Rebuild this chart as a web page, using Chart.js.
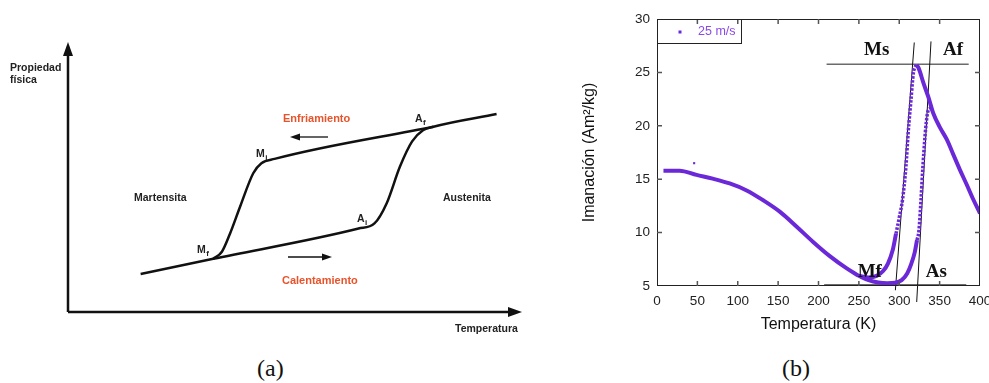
<!DOCTYPE html>
<html>
<head>
<meta charset="utf-8">
<script src="https://cdn.jsdelivr.net/npm/chart.js@4.4.0/dist/chart.umd.min.js"></script>
<style>
  html, body { margin: 0; padding: 0; background: #fff; overflow: hidden; }
  body { width: 989px; height: 383px; position: relative; }
  canvas { position: absolute; top: 0; }
  #schemeChart { left: 0; }
  #magChart { left: 560px; }
  .caption { position: absolute; top: 356px; font: 24px "Liberation Serif", "DejaVu Serif", serif; line-height: 24px; color: #111; }
</style>
</head>
<body>
<canvas id="schemeChart" width="540" height="340"></canvas>
<canvas id="magChart" width="440" height="340"></canvas>
<div class="caption" style="left:257px">(a)</div>
<div class="caption" style="left:782px">(b)</div>
<script>
// (a) schematic loop, arbitrary units 0-100
const heatTemp = [16, 32, 64, 67.5, 70.2, 73.1, 75.8, 78.2, 80.5, 94.4];
const heatProp = [14.1, 19.7, 30.9, 32.8, 40.3, 53.8, 63.2, 67.3, 68.6, 73.3];
const coolTemp = [32, 33.9, 35.7, 37.9, 40.8, 42.6, 45.5, 80.5];
const coolProp = [19.7, 22.3, 29.1, 39, 51.4, 55.1, 56.7, 68.6];

// (b) magnetisation vs temperature, 25 m/s
const baseTemp = [8, 28, 49, 69, 90, 111, 131, 152, 173, 193, 214, 235, 250];
const baseMag = [15.8, 15.8, 15.4, 15.05, 14.6, 13.95, 13.05, 11.96, 10.55, 9.15, 7.8, 6.65, 5.95];
const coolLowTemp = [250, 262, 272, 280, 286, 292, 296];
const coolLowMag = [5.95, 5.8, 5.95, 6.4, 7.1, 8.4, 9.9];
const coolSteepTemp = [296, 300, 304, 308.3, 311, 314.5, 317.4, 319.5, 321.5];
const coolSteepMag = [9.9, 11.4, 13.05, 16.2, 19.3, 22.4, 24.9, 25.5, 25.7];
const heatLowTemp = [250, 262, 274, 285, 295, 303, 310, 315, 319, 322];
const heatLowMag = [5.95, 5.55, 5.32, 5.25, 5.3, 5.55, 6.2, 7.1, 8.1, 9.3];
const heatSteepTemp = [322, 324.4, 326.9, 329.3, 332.2, 335, 338, 341];
const heatSteepMag = [9.3, 10.2, 13.05, 16.2, 19.3, 21.2, 21.6, 21.5];
const warmTemp = [321.5, 324, 330, 336, 342, 350, 359, 367, 375, 383.5, 392, 400];
const warmMag = [25.7, 25.4, 24.0, 22.7, 21.2, 19.9, 18.7, 17.3, 15.9, 14.5, 13.05, 11.8];
const strayTemp = [46];
const strayMag = [16.5];

// guide lines
const upperLevelTemp = [210, 386];
const upperLevelMag = [25.76, 25.76];
const lowerLevelTemp = [207, 383];
const lowerLevelMag = [5.12, 5.12];
const msTangentTemp = [318.6, 295.2];
const msTangentMag = [27.8, 4.6];
const afTangentTemp = [339.3, 321.6];
const afTangentMag = [27.9, 3.5];

const xTicks = [0, 50, 100, 150, 200, 250, 300, 350, 400];
const yTicks = [5, 10, 15, 20, 25, 30];

const purple = '#6a28d8';
const zip = (xs, ys) => xs.map((x, i) => ({ x: x, y: ys[i] }));

// ---------- (a) ----------
const schemeDecor = {
    id: 'schemeDecor',
    afterDraw(chart) {
        const ctx = chart.ctx;
        const a = chart.chartArea;
        ctx.save();
        ctx.strokeStyle = '#111';
        ctx.fillStyle = '#111';
        ctx.lineWidth = 2.5;
        // axes with arrow heads
        ctx.beginPath();
        ctx.moveTo(a.left, a.bottom);
        ctx.lineTo(a.left, a.top + 10);
        ctx.moveTo(a.left, a.bottom);
        ctx.lineTo(a.right - 10, a.bottom);
        ctx.stroke();
        ctx.beginPath();
        ctx.moveTo(a.left, a.top);
        ctx.lineTo(a.left - 5, a.top + 14);
        ctx.lineTo(a.left + 5, a.top + 14);
        ctx.closePath();
        ctx.fill();
        ctx.beginPath();
        ctx.moveTo(a.right, a.bottom);
        ctx.lineTo(a.right - 14, a.bottom - 5);
        ctx.lineTo(a.right - 14, a.bottom + 5);
        ctx.closePath();
        ctx.fill();

        // small direction arrows
        function arrow(x1, x2, y) {
            const dir = x2 > x1 ? 1 : -1;
            ctx.lineWidth = 1.3;
            ctx.beginPath();
            ctx.moveTo(x1, y);
            ctx.lineTo(x2 - dir * 8, y);
            ctx.stroke();
            ctx.beginPath();
            ctx.moveTo(x2, y);
            ctx.lineTo(x2 - dir * 10, y - 3.5);
            ctx.lineTo(x2 - dir * 10, y + 3.5);
            ctx.closePath();
            ctx.fill();
        }
        arrow(328, 290, 137);
        arrow(288, 332, 257);

        ctx.font = 'bold 10.5px "Liberation Sans", Arial, sans-serif';
        ctx.textBaseline = 'alphabetic';
        ctx.fillStyle = '#222';
        ctx.fillText('Propiedad', 10, 71);
        ctx.fillText('física', 10, 83);
        ctx.fillText('Temperatura', 455, 332);
        ctx.fillText('Martensita', 134, 201);
        ctx.fillText('Austenita', 443, 201);
        ctx.fillStyle = '#e8532b';
        ctx.font = 'bold 11px "Liberation Sans", Arial, sans-serif';
        ctx.fillText('Enfriamiento', 283, 122);
        ctx.fillText('Calentamiento', 282, 284);

        ctx.fillStyle = '#222';
        function sub(main, s, x, y) {
            ctx.font = 'bold 10.5px "Liberation Sans", Arial, sans-serif';
            ctx.fillText(main, x, y);
            const w = ctx.measureText(main).width;
            ctx.font = 'bold 8px "Liberation Sans", Arial, sans-serif';
            ctx.fillText(s, x + w + 0.5, y + 2.5);
        }
        sub('M', 'i', 256, 157);
        sub('A', 'f', 415, 122);
        sub('A', 'i', 357, 222);
        sub('M', 'f', 197, 253);
        ctx.restore();
    }
};

new Chart(document.getElementById('schemeChart'), {
    type: 'scatter',
    data: {
        datasets: [{
            data: zip(heatTemp, heatProp),
            showLine: true,
            borderColor: '#111',
            borderWidth: 2.5,
            pointRadius: 0,
            cubicInterpolationMode: 'monotone'
        }, {
            data: zip(coolTemp, coolProp),
            showLine: true,
            borderColor: '#111',
            borderWidth: 2.5,
            pointRadius: 0,
            cubicInterpolationMode: 'monotone'
        }]
    },
    options: {
        responsive: false,
        animation: false,
        layout: { padding: { left: 68, right: 18, top: 42, bottom: 28 } },
        plugins: { legend: { display: false }, tooltip: { enabled: false } },
        scales: {
            x: { display: false, min: 0, max: 100 },
            y: { display: false, min: 0, max: 100 }
        }
    },
    plugins: [schemeDecor]
});

// ---------- (b) ----------
const frameDecor = {
    id: 'frameDecor',
    afterDatasetsDraw(chart) {
        const ctx = chart.ctx;
        const a = chart.chartArea;
        const x = chart.scales.x;
        const y = chart.scales.y;
        ctx.save();
        ctx.strokeStyle = '#222';
        ctx.lineWidth = 1;
        ctx.strokeRect(a.left + 0.5, a.top + 0.5, a.width - 1, a.height - 1);
        ctx.strokeStyle = '#555';
        ctx.lineWidth = 1.5;
        ctx.beginPath();
        xTicks.slice(1, -1).forEach(v => {
            const px = x.getPixelForValue(v);
            ctx.moveTo(px, a.bottom); ctx.lineTo(px, a.bottom - 5);
            ctx.moveTo(px, a.top); ctx.lineTo(px, a.top + 5);
        });
        yTicks.slice(1, -1).forEach(v => {
            const py = y.getPixelForValue(v);
            ctx.moveTo(a.left, py); ctx.lineTo(a.left + 5, py);
            ctx.moveTo(a.right, py); ctx.lineTo(a.right - 5, py);
        });
        ctx.stroke();

        // legend box
        ctx.strokeStyle = '#222';
        ctx.lineWidth = 1;
        ctx.strokeRect(a.left + 0.5, a.top + 0.5, 84, 24);
        ctx.fillStyle = purple;
        ctx.fillRect(a.left + 21.5, a.top + 11.5, 3, 3);
        ctx.fillStyle = '#8a4ae6';
        ctx.font = '12.5px "Liberation Sans", Arial, sans-serif';
        ctx.textBaseline = 'middle';
        ctx.fillText('25 m/s', a.left + 41, a.top + 13);

        // transformation labels
        ctx.fillStyle = '#111';
        ctx.font = 'bold 19px "Liberation Serif", "DejaVu Serif", serif';
        ctx.textAlign = 'center';
        ctx.textBaseline = 'alphabetic';
        ctx.fillText('Ms', x.getPixelForValue(272), y.getPixelForValue(26.6));
        ctx.fillText('Af', x.getPixelForValue(366.5), y.getPixelForValue(26.6));
        ctx.fillText('Mf', x.getPixelForValue(263.5), y.getPixelForValue(5.84));
        ctx.fillText('As', x.getPixelForValue(346), y.getPixelForValue(5.84));
        ctx.restore();
    }
};

function dataLine(xs, ys, dotted) {
    return {
        data: zip(xs, ys),
        showLine: true,
        borderColor: purple,
        borderWidth: dotted ? 3.5 : 4,
        borderDash: dotted ? [2.5, 1.5] : [],
        pointRadius: 0,
        cubicInterpolationMode: 'monotone'
    };
}
function guideLine(xs, ys, color, width) {
    return {
        data: zip(xs, ys),
        showLine: true,
        borderColor: color,
        borderWidth: width,
        pointRadius: 0,
        clip: false
    };
}

const sansFont = '"Liberation Sans", Arial, sans-serif';

new Chart(document.getElementById('magChart'), {
    type: 'scatter',
    data: {
        datasets: [
            dataLine(baseTemp, baseMag, false),
            dataLine(coolLowTemp, coolLowMag, false),
            dataLine(coolSteepTemp, coolSteepMag, true),
            dataLine(heatLowTemp, heatLowMag, false),
            dataLine(heatSteepTemp, heatSteepMag, true),
            dataLine(warmTemp, warmMag, false),
            {
                data: zip(strayTemp, strayMag),
                pointStyle: 'rect',
                pointRadius: 1.5,
                backgroundColor: purple,
                borderWidth: 0
            },
            guideLine(msTangentTemp, msTangentMag, '#111', 1),
            guideLine(afTangentTemp, afTangentMag, '#111', 1),
            guideLine(upperLevelTemp, upperLevelMag, '#6b6b6b', 1.5),
            guideLine(lowerLevelTemp, lowerLevelMag, '#6b6b6b', 1.5)
        ]
    },
    options: {
        responsive: false,
        animation: false,
        layout: { padding: { left: 0, right: 20, top: 19, bottom: 0 } },
        plugins: { legend: { display: false }, tooltip: { enabled: false } },
        scales: {
            x: {
                min: 0, max: 400,
                afterBuildTicks: s => { s.ticks = xTicks.map(v => ({ value: v })); },
                afterFit: s => { s.height = 54; },
                grid: { display: false, drawTicks: false },
                border: { display: false },
                ticks: { color: '#222', padding: 7, maxRotation: 0, font: { size: 13.5, family: sansFont } },
                title: { display: true, text: 'Temperatura (K)', color: '#111', padding: { top: 0, bottom: 6 },
                         font: { size: 16, family: sansFont } }
            },
            y: {
                min: 5, max: 30,
                afterBuildTicks: s => { s.ticks = yTicks.map(v => ({ value: v })); },
                afterFit: s => { s.width = 97; },
                grid: { display: false, drawTicks: false },
                border: { display: false },
                ticks: { color: '#222', padding: 7, font: { size: 13.5, family: sansFont } },
                title: { display: true, text: 'Imanación (Am²/kg)', color: '#111', padding: { top: 20, bottom: 0 },
                         font: { size: 16, family: sansFont } }
            }
        }
    },
    plugins: [frameDecor]
});
</script>
</body>
</html>
